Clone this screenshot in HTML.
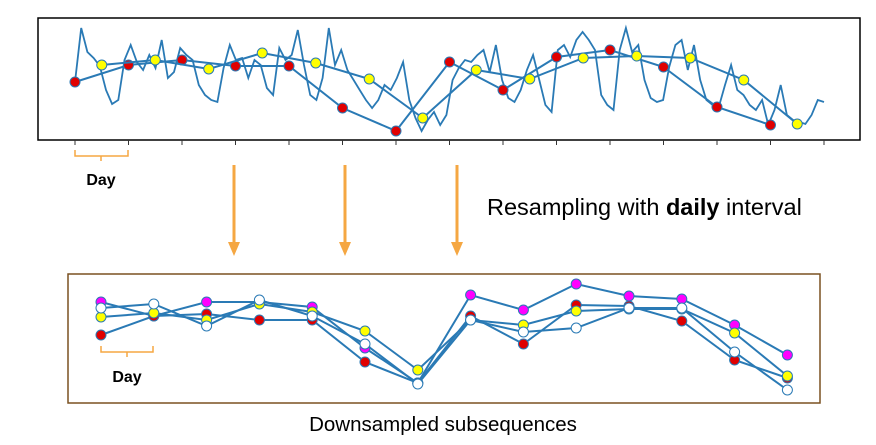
<!DOCTYPE html>
<html><head><meta charset="utf-8"><style>
body{margin:0;background:#fff;width:876px;height:440px;overflow:hidden;font-family:"Liberation Sans",sans-serif}
</style></head><body>
<svg id="s" width="876" height="440" xmlns="http://www.w3.org/2000/svg">
<rect x="38" y="18" width="822" height="122" fill="#fff" stroke="#000" stroke-width="1.5"/>
<g id="topg"></g>
<rect x="68" y="274" width="752" height="129" fill="#fff" stroke="#7a5020" stroke-width="1.5"/>
<g id="botg"></g>
<path d="M75,150 v6 h53 v-6 M101,156 v5" fill="none" stroke="#f5a742" stroke-width="1.5"/>
<text x="101" y="185" font-size="16" font-weight="bold" text-anchor="middle">Day</text>
<path d="M101,346 v6 h52 v-6 M127,352 v5" fill="none" stroke="#f5a742" stroke-width="1.5"/>
<text x="127" y="382" font-size="16" font-weight="bold" text-anchor="middle">Day</text>
<g fill="#f5a742" stroke="#f5a742" stroke-width="3">
<line x1="234" y1="165" x2="234" y2="244"/><polygon points="228,242 240,242 234,256" stroke="none"/>
<line x1="345" y1="165" x2="345" y2="244"/><polygon points="339,242 351,242 345,256" stroke="none"/>
<line x1="457" y1="165" x2="457" y2="244"/><polygon points="451,242 463,242 457,256" stroke="none"/>
</g>
<text x="487" y="215" font-size="23.5">Resampling with <tspan font-weight="bold">daily</tspan> interval</text>
<text x="443" y="431" font-size="20.5" text-anchor="middle">Downsampled subsequences</text>
</svg>
<script>
const days = [0,1,2,3,4,5,6,7,8,9,10,11,12,13];
const redTop = [58,75,80,74,74,32,9,78,50,83,90,73,33,15];
const yellowTop = [75,80,71,87,77,61,22,70,61,82,84,82,60,16];
const rawSeries = [58,112,88,82,74,50,36,40, 80,95,78,70,85,72,100,62, 68,92,85,80,55,45,40,38, 72,95,80,82,62,80,75,52,
 45,92,80,85,110,75,45,40, 62,112,75,90,70,60,50,40, 32,40,55,50,62,78,40,22, 9,20,28,15,25,60,72,80,
 78,85,90,68,95,60,42,38, 50,70,85,60,35,28,90,95, 83,100,108,100,90,45,35,30, 90,112,88,95,60,42,38,40,
 73,95,100,70,95,60,40,35, 33,55,75,50,45,35,30,40, 15,30,55,25,20,18,16,25,40,38];
const magentaBot = [302,316,302,302,307,348,383,295,310,284,296,299,325,355];
const yellowBot = [317,313,320,304,312,331,370,320,325,311,309,309,333,376];
const redBot = [335,316,314,320,320,362,383,316,344,305,306,321,360,378];
const whiteBot = [308,304,326,300,316,344,384,320,332,328,308,308,352,390];

const NS="http://www.w3.org/2000/svg";
const C="#2a7ab5";
const xt = d => 75 + d*53.5;
const yt = v => 140 - v;
const xb = d => 101 + d*52.8;
const yb = v => v;
function mk(tag, attrs, parent){const e=document.createElementNS(NS,tag);for(const k in attrs)e.setAttribute(k,attrs[k]);parent.appendChild(e);return e;}
const topG=document.getElementById('topg'), botG=document.getElementById('botg');
for(let i=0;i<15;i++){
  const t=mk('line',{x1:xt(i),x2:xt(i),y1:140,y2:145,stroke:'#333','stroke-width':1},topG);
  
  
}
let d='';
const step = (xt(14)-xt(0))/(rawSeries.length-1);
rawSeries.forEach((v,i)=>{d+=(i?'L':'M')+(xt(0)+i*step).toFixed(1)+','+yt(v).toFixed(1);});
const raw=mk('path',{d:d,fill:'none',stroke:C,'stroke-width':1.8},topG);


function series(g,xs,ys,vals,col,name,offset){
  let p='';vals.forEach((v,i)=>{p+=(i?'L':'M')+xs(days[i]+offset)+','+ys(v);});
  const l=mk('path',{d:p,fill:'none',stroke:C,'stroke-width':2},g);
  
  
  vals.forEach((v,i)=>{
    const c=mk('circle',{cx:xs(days[i]+offset),cy:ys(v),r:5,fill:col,stroke:C,'stroke-width':1},g);
    
    
  });
}
series(topG,xt,yt,redTop,'#e00000','red-sample',0);
series(topG,xt,yt,yellowTop,'#ffff00','yellow-sample',0.5);
series(botG,xb,yb,magentaBot,'#ff00ff','magenta-subseq',0);
series(botG,xb,yb,redBot,'#e00000','red-subseq',0);
series(botG,xb,yb,yellowBot,'#ffff00','yellow-subseq',0);
series(botG,xb,yb,whiteBot,'#ffffff','white-subseq',0);
</script>
</body></html>
